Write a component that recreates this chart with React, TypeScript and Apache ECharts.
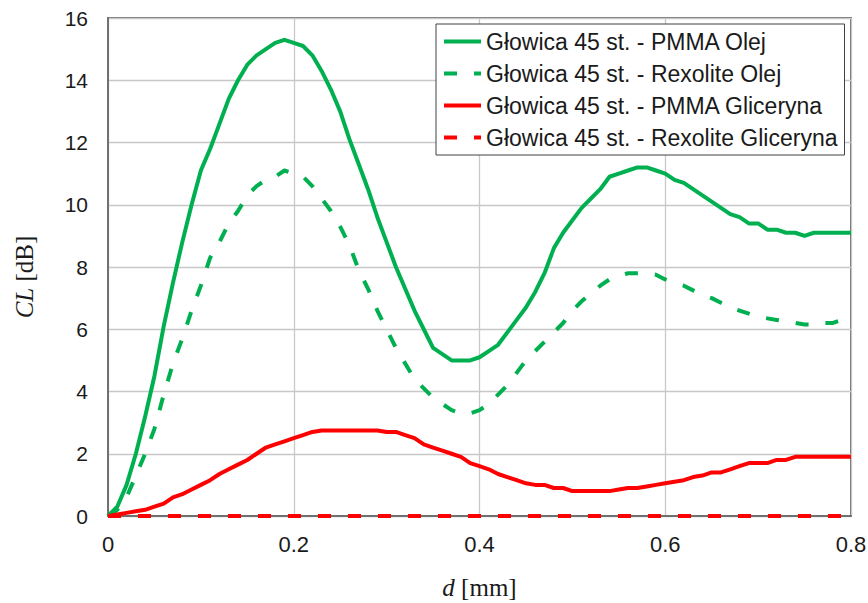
import React, { useEffect, useRef } from "react";
import * as echarts from "echarts";

const dValues = [
  0, 0.01, 0.02, 0.03, 0.04, 0.05, 0.06, 0.07, 0.08, 0.09,
  0.1, 0.11, 0.12, 0.13, 0.14, 0.15, 0.16, 0.17, 0.18, 0.19,
  0.2, 0.21, 0.22, 0.23, 0.24, 0.25, 0.26, 0.27, 0.28, 0.29,
  0.3, 0.31, 0.32, 0.33, 0.34, 0.35, 0.36, 0.37, 0.38, 0.39,
  0.4, 0.41, 0.42, 0.43, 0.44, 0.45, 0.46, 0.47, 0.48, 0.49,
  0.5, 0.51, 0.52, 0.53, 0.54, 0.55, 0.56, 0.57, 0.58, 0.59,
  0.6, 0.61, 0.62, 0.63, 0.64, 0.65, 0.66, 0.67, 0.68, 0.69,
  0.7, 0.71, 0.72, 0.73, 0.74, 0.75, 0.76, 0.77, 0.78, 0.79,
  0.8,
];

const pmmaOlej = [
  0, 0.3, 1.0, 2.0, 3.2, 4.5, 6.1, 7.5, 8.8, 10.0,
  11.1, 11.8, 12.6, 13.4, 14.0, 14.5, 14.8, 15.0, 15.2, 15.3,
  15.2, 15.1, 14.8, 14.3, 13.7, 13.0, 12.1, 11.3, 10.5, 9.6,
  8.8, 8.0, 7.3, 6.6, 6.0, 5.4, 5.2, 5.0, 5.0, 5.0,
  5.1, 5.3, 5.5, 5.9, 6.3, 6.7, 7.2, 7.8, 8.6, 9.1,
  9.5, 9.9, 10.2, 10.5, 10.9, 11.0, 11.1, 11.2, 11.2, 11.1,
  11.0, 10.8, 10.7, 10.5, 10.3, 10.1, 9.9, 9.7, 9.6, 9.4,
  9.4, 9.2, 9.2, 9.1, 9.1, 9.0, 9.1, 9.1, 9.1, 9.1,
  9.1,
];

const rexoliteOlej = [
  0, 0.2, 0.6, 1.3, 2.0, 2.8, 3.9, 4.9, 5.7, 6.6,
  7.4, 8.3, 8.8, 9.4, 9.8, 10.3, 10.6, 10.8, 10.9, 11.1,
  11.0, 10.9, 10.6, 10.2, 9.8, 9.3, 8.7, 7.9, 7.3, 6.6,
  6.0, 5.4, 4.9, 4.4, 4.1, 3.8, 3.6, 3.4, 3.3, 3.3,
  3.4, 3.6, 3.9, 4.2, 4.6, 5.0, 5.3, 5.6, 5.9, 6.2,
  6.6, 6.9, 7.15, 7.4, 7.6, 7.7, 7.8, 7.8, 7.8, 7.75,
  7.6, 7.5, 7.4, 7.25, 7.1, 7.0, 6.85, 6.7, 6.6, 6.5,
  6.4, 6.35, 6.3, 6.25, 6.2, 6.15, 6.15, 6.2, 6.2, 6.3,
  6.3,
];

const pmmaGliceryna = [
  0, 0.05, 0.1, 0.15, 0.2, 0.3, 0.4, 0.6, 0.7, 0.85,
  1.0, 1.15, 1.35, 1.5, 1.65, 1.8, 2.0, 2.2, 2.3, 2.4,
  2.5, 2.6, 2.7, 2.75, 2.75, 2.75, 2.75, 2.75, 2.75, 2.75,
  2.7, 2.7, 2.6, 2.5, 2.3, 2.2, 2.1, 2.0, 1.9, 1.7,
  1.6, 1.5, 1.35, 1.25, 1.15, 1.05, 1.0, 1.0, 0.9, 0.9,
  0.8, 0.8, 0.8, 0.8, 0.8, 0.85, 0.9, 0.9, 0.95, 1.0,
  1.05, 1.1, 1.15, 1.25, 1.3, 1.4, 1.4, 1.5, 1.6, 1.7,
  1.7, 1.7, 1.8, 1.8, 1.9, 1.9, 1.9, 1.9, 1.9, 1.9,
  1.9,
];

const rexoliteGliceryna = [
  0, 0, 0, 0, 0, 0, 0, 0, 0, 0,
  0, 0, 0, 0, 0, 0, 0, 0, 0, 0,
  0, 0, 0, 0, 0, 0, 0, 0, 0, 0,
  0, 0, 0, 0, 0, 0, 0, 0, 0, 0,
  0, 0, 0, 0, 0, 0, 0, 0, 0, 0,
  0, 0, 0, 0, 0, 0, 0, 0, 0, 0,
  0, 0, 0, 0, 0, 0, 0, 0, 0, 0,
  0, 0, 0, 0, 0, 0, 0, 0, 0, 0,
  0,
];

const seriesNames = [
  "Głowica 45 st. - PMMA Olej",
  "Głowica 45 st. - Rexolite Olej",
  "Głowica 45 st. - PMMA Gliceryna",
  "Głowica 45 st. - Rexolite Gliceryna",
];

const GREEN = "#00b050";
const RED = "#ff0000";
const SANS = "'Liberation Sans', Arial, sans-serif";
const SERIF = "'Liberation Serif', 'Times New Roman', serif";
const TEXT = "#1a1a1a";

function pairs(xs: number[], ys: number[]) {
  return xs.map((x, i) => [x, ys[i]]);
}

export default function App() {
  const ref = useRef<HTMLDivElement>(null);
  useEffect(() => {
    if (!ref.current) return;
    const chart = echarts.init(ref.current, undefined, { renderer: "svg" });
    const dash = [13, 17];
    const mk = (name: string, ys: number[], color: string, dashed: boolean, z: number) => ({
      name,
      type: "line",
      data: pairs(dValues, ys),
      symbol: "none",
      clip: false,
      z,
      color,
      lineStyle: { color, width: 4, type: dashed ? dash : "solid", cap: "butt", join: "round" },
    });
    chart.setOption({
      animation: false,
      backgroundColor: "#ffffff",
      grid: {
        left: 108,
        right: 17,
        top: 18,
        bottom: 87,
        containLabel: false,
        outerBoundsMode: "none",
        show: true,
        borderColor: "#707070",
        borderWidth: 2,
        backgroundColor: "transparent",
      },
      legend: {
        left: 436,
        top: 24,
        orient: "vertical",
        selectedMode: false,
        backgroundColor: "#ffffff",
        borderColor: "#404040",
        borderWidth: 1,
        borderRadius: 0,
        padding: [6, 7, 6, 6],
        itemGap: 9,
        itemWidth: 37,
        itemHeight: 14,
        itemStyle: { opacity: 0 },
        lineStyle: { width: 4 },
        textStyle: { fontFamily: SANS, fontSize: 23, color: TEXT, lineHeight: 23 },
        data: seriesNames,
      },
      xAxis: {
        type: "value",
        min: 0,
        max: 0.8,
        interval: 0.2,
        axisLine: { show: true, onZero: false, lineStyle: { color: "#707070", width: 2 } },
        axisTick: { show: false },
        splitLine: { show: true, lineStyle: { color: "#c8c8c8", width: 1.3 } },
        axisLabel: { fontFamily: SANS, fontSize: 22, color: TEXT, margin: 17 },
        name: "{i|d} [mm]",
        nameLocation: "middle",
        nameGap: 59,
        nameTextStyle: {
          fontFamily: SERIF,
          fontSize: 25,
          color: TEXT,
          rich: { i: { fontFamily: SERIF, fontStyle: "italic", fontSize: 25, color: TEXT } },
        },
      },
      yAxis: {
        type: "value",
        min: 0,
        max: 16,
        interval: 2,
        axisLine: { show: true, onZero: false, lineStyle: { color: "#707070", width: 2 } },
        axisTick: { show: false },
        splitLine: { show: true, lineStyle: { color: "#c8c8c8", width: 1.3 } },
        axisLabel: { fontFamily: SANS, fontSize: 21, color: TEXT, margin: 20 },
        name: "{i|CL} [dB]",
        nameLocation: "middle",
        nameRotate: 90,
        nameGap: 71,
        nameTextStyle: {
          fontFamily: SERIF,
          fontSize: 25,
          color: TEXT,
          padding: [0, 20, 0, 0],
          rich: { i: { fontFamily: SERIF, fontStyle: "italic", fontSize: 25, color: TEXT } },
        },
      },
      series: [
        mk(seriesNames[0], pmmaOlej, GREEN, false, 3),
        mk(seriesNames[1], rexoliteOlej, GREEN, true, 4),
        mk(seriesNames[2], pmmaGliceryna, RED, false, 5),
        mk(seriesNames[3], rexoliteGliceryna, RED, true, 6),
      ],
    });
    return () => chart.dispose();
  }, []);
  return <div ref={ref} style={{ width: 868, height: 603, position: "absolute", left: 0, top: 0 }} />;
}
